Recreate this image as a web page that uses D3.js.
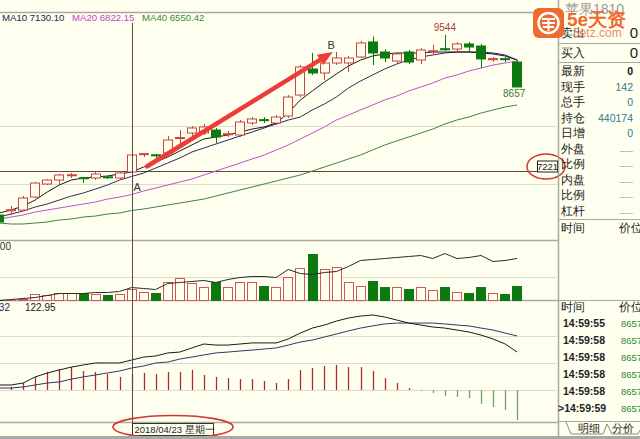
<!DOCTYPE html>
<html><head><meta charset="utf-8">
<script src="https://cdn.jsdelivr.net/npm/d3@7"></script>
<style>
html,body{margin:0;padding:0;background:#fffff0;overflow:hidden}
svg{display:block}
text{font-family:"Liberation Sans","DejaVu Sans",sans-serif}
</style></head><body>
<svg id="c" width="640" height="439"></svg>
<script>
// ---------- DATA ----------
const opens  = [6473,6545,6558,6780,7002,7070,7150,7110,7105,7125,7105,7207,7510,7500,7531,7780,7872,7872,7923,7850,7838,8043,8100,8043,8162,8520,8964,8896,9066,9066,9169,9425,9254,9100,9254,9117,9268,9310,9305,9391,9356,9125,9140,9083];
const highs  = [6507,6627,6797,7036,7087,7173,7190,7122,7207,7139,7224,7531,7531,7514,7821,7923,7992,8026,7958,7906,8094,8145,8145,8179,8520,9032,9237,9100,9254,9186,9442,9520,9305,9254,9288,9322,9374,9544,9425,9425,9391,9169,9169,9117];
const lows   = [6320,6473,6541,6763,6985,6985,7105,7019,7070,7087,7070,7190,7463,7446,7514,7633,7787,7838,7702,7804,7804,8009,8043,8009,8128,8486,8862,8776,9032,8913,9152,9032,9083,9049,9049,9049,9203,9271,9237,9254,8981,9083,9083,8657];
const closes = [6354,6565,6763,7019,7070,7156,7160,7100,7173,7115,7190,7497,7520,7490,7753,7795,7958,7975,7804,7860,8060,8111,8090,8145,8486,8998,8896,9066,9152,9152,9408,9237,9152,9220,9083,9288,9275,9300,9391,9339,9135,9140,9130,8657];
const ma5  = [6507,6558,6627,6729,6866,6985,7070,7105,7122,7139,7173,7207,7292,7377,7463,7565,7667,7770,7804,7838,7889,7940,7975,8043,8213,8435,8589,8742,8879,9015,9117,9186,9220,9237,9237,9237,9254,9254,9254,9254,9237,9220,9186,9117];
const ma10 = [6439,6490,6541,6610,6661,6729,6797,6849,6917,6985,7070,7130.10,7190,7275,7360,7446,7548,7616,7685,7753,7821,7889,7958,8026,8094,8145,8265,8367,8486,8640,8759,8862,8964,9049,9117,9169,9203,9237,9254,9254,9254,9237,9203,9117];
const ma20 = [6405,6439,6473,6524,6558,6593,6627,6661,6695,6746,6780,6822.15,6883,6934,6985,7036,7087,7156,7224,7292,7360,7429,7497,7582,7667,7770,7872,7975,8094,8179,8265,8350,8435,8503,8589,8657,8725,8810,8862,8930,8981,9032,9066,9100];
const ma40 = [6337,6320,6320,6337,6354,6388,6405,6439,6456,6490,6507,6550.42,6576,6610,6644,6678,6712,6746,6797,6849,6900,6951,7002,7053,7105,7156,7224,7292,7360,7429,7497,7582,7667,7736,7804,7872,7940,8026,8094,8145,8213,8265,8316,8350];
const volumes = [4000,6000,8000,29000,25000,33000,33000,33000,29000,25000,29000,50000,37500,33000,79000,96000,75000,58000,79000,58000,79000,79000,62500,58000,100000,137500,196000,133000,142000,79000,62500,83000,58000,58000,50000,58000,46000,58000,37500,33000,58000,33000,29000,62500];
const openInterest = [356000,358000,360000,362000,366000,370000,370000,370000,372000,372000,374000,382000,380000,378000,390000,392000,394000,396000,392000,398000,402000,404000,404000,402000,418000,410000,408000,412000,414000,424000,436000,438000,440000,442000,444000,446000,440000,450000,440000,442000,446000,434000,436000,440174];
const macdDiff = [28,28,39,73,95,112,128,140,151,151,151,167.32,184,190,207,212,235,257,251,251,257,263,263,263,285,318,346,363,385,402,413,419,408,391,374,363,352,346,335,324,307,285,257,212];
const macdDea  = [11,11,17,28,39,45,61,73,84,95,106,122.95,134,151,156,173,184,196,207,212,218,223,229,235,251,268,279,296,313,330,346,358,369,374,374,374,374,369,363,358,346,335,318,302];
const macdHist = [5,17,39,73,101,117,128,106,101,89,73,89,95,89,101,101,112,84,73,67,61,61,50,39,61,112,123,134,140,128,128,106,67,39,11,-4,-17,-34,-39,-45,-78,-95,-112,-168];
const priceGrid = [7000, 8000];
const volumeGrid = [100000];
const macdGrid = [0, 150, 300];
const cursorIndex = 11, cursorPrice = 7221;
const cursorDate = "2018/04/23 星期一";
const maLegend = [{name:"MA10", val:"7130.10", color:"#23234f"},{name:"MA20", val:"6822.15", color:"#c83ec8"},{name:"MA40", val:"6550.42", color:"#3b873b"}];
const quoteLabels = ["最新","现手","总手","持仓","日增","外盘","比例","内盘","比例","杠杆"];
const quoteValues = ["0","142","0","440174","0","-----","-----","-----","-----","-----"];
const tickTimes = ["14:59:55","14:59:58","14:59:58","14:59:58","14:59:58",">14:59:59"];
const tickPrices = ["8657","8657","8657","8657","8657","8657"];

// ---------- SCALES ----------
const N = opens.length;
const idx = d3.range(N);
const x = d3.scaleBand().domain(idx).range([-7, 523.2]).paddingInner(0.2).paddingOuter(0.1);
const bw = x.bandwidth();
const xc = i => x(i) + bw/2;
const xf = d3.scaleLinear().domain([0, N-1]).range([xc(0), xc(N-1)]);
const yP = d3.scaleLinear().domain([8657, 9544]).range([87, 35]);
const yV = d3.scaleLinear().domain([0, 250000]).range([301, 241]);
const yOI = d3.scaleLinear().domain([355000, 475000]).range([301, 241]);
const yM = d3.scaleLinear().domain([0, 300]).range([390, 336.3]);

const BG = "#fffff0", RED = "#c9443c", GREEN = "#0c7a10";
const svg = d3.select("#c");
svg.append("rect").attr("width",640).attr("height",439).attr("fill",BG);

const defs = svg.append("defs");
defs.append("clipPath").attr("id","cp").append("rect").attr("x",0).attr("y",13).attr("width",557).attr("height",227);
defs.append("clipPath").attr("id","cv").append("rect").attr("x",0).attr("y",241).attr("width",557).attr("height",60);
defs.append("clipPath").attr("id","cm").append("rect").attr("x",0).attr("y",301).attr("width",557).attr("height",122);

// grid lines
const grid = svg.append("g").attr("stroke","#dcdccc").attr("stroke-width",1).attr("shape-rendering","crispEdges");
grid.selectAll(".gp").data(priceGrid).join("line").attr("x1",0).attr("x2",557).attr("y1",d=>Math.round(yP(d))+0.5).attr("y2",d=>Math.round(yP(d))+0.5);
grid.selectAll(".gv").data(volumeGrid).join("line").attr("x1",0).attr("x2",557).attr("y1",d=>Math.round(yV(d))+0.5).attr("y2",d=>Math.round(yV(d))+0.5);
grid.selectAll(".gm").data(macdGrid).join("line").attr("x1",0).attr("x2",557).attr("y1",d=>Math.round(yM(d))+0.5).attr("y2",d=>Math.round(yM(d))+0.5);

// panel separators
const sep = svg.append("g").attr("stroke","#a9a9a0").attr("stroke-width",1.5);
[12.5, 240.5, 300.5, 422.5].forEach(v => sep.append("line").attr("x1",0).attr("x2",558).attr("y1",v).attr("y2",v));

// ---------- PRICE PANEL ----------
const gp = svg.append("g").attr("clip-path","url(#cp)");
gp.append("line").attr("x1",0).attr("x2",537).attr("y1",Math.round(yP(cursorPrice))+0.5).attr("y2",Math.round(yP(cursorPrice))+0.5).attr("stroke","#5a4a48").attr("stroke-width",1);

const maLine = arr => d3.line().x((d,i)=>xc(i)).y(d=>yP(d))(arr);
[[ma40,"#3b873b"],[ma20,"#c050c8"],[ma10,"#2b2b60"],[ma5,"#1a1a1a"]].forEach(([arr,col])=>{
  gp.append("path").attr("d",maLine(arr)).attr("fill","none").attr("stroke",col).attr("stroke-width",1);
});

const cg = gp.append("g");
idx.forEach(i=>{
  const up = closes[i] >= opens[i];
  const col = up ? RED : GREEN;
  const cx = Math.round(xc(i)) + 0.5;
  cg.append("line").attr("x1",cx).attr("x2",cx).attr("y1",yP(highs[i])).attr("y2",yP(lows[i])).attr("stroke",col).attr("stroke-width",1);
  const yt = yP(Math.max(opens[i],closes[i])), yb = yP(Math.min(opens[i],closes[i]));
  const h = Math.max(yb-yt, 1);
  cg.append("rect").attr("x",Math.round(x(i))+0.5).attr("y",yt).attr("width",Math.round(bw)-1).attr("height",h)
    .attr("fill", up ? BG : GREEN).attr("stroke",col).attr("stroke-width",1);
});

const arrowFrom = {i:12.3, p:7305}, arrowTo = {i:27.7, p:9254};
const ax1 = xf(arrowFrom.i), ay1 = yP(arrowFrom.p), ax2 = xf(arrowTo.i), ay2 = yP(arrowTo.p);
const ang = Math.atan2(ay2-ay1, ax2-ax1);
const hl = 15, hw = 6;
const bx = ax2 - hl*Math.cos(ang), by = ay2 - hl*Math.sin(ang);
gp.append("line").attr("x1",ax1).attr("y1",ay1).attr("x2",bx).attr("y2",by).attr("stroke","#ec3b38").attr("stroke-width",4.5).attr("stroke-linecap","round");
gp.append("path").attr("d",`M${ax2},${ay2} L${bx - hw*Math.sin(ang)},${by + hw*Math.cos(ang)} L${bx + hw*Math.sin(ang)},${by - hw*Math.cos(ang)} Z`).attr("fill","#ec3b38");

gp.append("text").attr("x",xc(cursorIndex)+2).attr("y",yP(6880)).attr("font-size",11).attr("fill","#333").text("A");
gp.append("text").attr("x",xf(27.25)).attr("y",yP(9305)).attr("font-size",11).attr("fill","#333").text("B");

const hiI = highs.indexOf(d3.max(highs));
gp.append("text").attr("x",xc(hiI)).attr("y",yP(highs[hiI])-4).attr("text-anchor","middle").attr("font-size",10).attr("fill","#b23a3a").text(d3.max(highs));
gp.append("text").attr("x",xc(N-1)-3).attr("y",yP(lows[N-1])+10).attr("text-anchor","middle").attr("font-size",10).attr("fill","#3a7a3a").text(lows[N-1]);

const legX = [2, 72, 142];
maLegend.forEach((m,k)=>{
  svg.append("text").attr("x",legX[k]).attr("y",21).attr("font-size",9.6).attr("fill",m.color).text(m.name+" "+m.val);
});

const cy = Math.round(yP(cursorPrice))+0.5;
svg.append("rect").attr("x",537.5).attr("y",cy-10.5).attr("width",20).attr("height",11).attr("fill","#fffff0").attr("stroke","#222").attr("stroke-width",1);
svg.append("text").attr("x",547.5).attr("y",cy-2).attr("text-anchor","middle").attr("font-size",9.5).attr("fill","#222").text(cursorPrice);
svg.append("ellipse").attr("cx",546).attr("cy",cy-5).attr("rx",19).attr("ry",12.5).attr("fill","none").attr("stroke","#d8322e").attr("stroke-width",1.5);

// ---------- VOLUME PANEL ----------
const gv = svg.append("g").attr("clip-path","url(#cv)");
idx.forEach(i=>{
  const up = closes[i] >= opens[i];
  const yt = yV(volumes[i]);
  gv.append("rect").attr("x",Math.round(x(i))+0.5).attr("y",Math.round(yt)+0.5).attr("width",Math.round(bw)-1).attr("height",Math.max(300.5-Math.round(yt)-0.5,0.5))
    .attr("fill", up ? BG : GREEN).attr("stroke", up ? "#d05858" : GREEN).attr("stroke-width",1);
});
gv.append("path").attr("d",d3.line().x((d,i)=>xc(i)).y(d=>yOI(d))(openInterest)).attr("fill","none").attr("stroke","#2a2a2a").attr("stroke-width",1);
svg.append("text").attr("x",11).attr("y",250).attr("text-anchor","end").attr("font-size",10).attr("fill","#333").text(d3.format("d")(yV.domain()[1]));

// ---------- MACD PANEL ----------
const gm = svg.append("g").attr("clip-path","url(#cm)");
idx.forEach(i=>{
  const v = macdHist[i];
  gm.append("line").attr("x1",Math.round(xc(i))+0.5).attr("x2",Math.round(xc(i))+0.5).attr("y1",yM(0)).attr("y2",yM(v))
    .attr("stroke", v>=0 ? "#a8302c" : "#6fa06f").attr("stroke-width",1.3);
});
gm.append("path").attr("d",d3.line().x((d,i)=>xc(i)).y(d=>yM(d))(macdDea)).attr("fill","none").attr("stroke","#34346e").attr("stroke-width",1);
gm.append("path").attr("d",d3.line().x((d,i)=>xc(i)).y(d=>yM(d))(macdDiff)).attr("fill","none").attr("stroke","#1a1a1a").attr("stroke-width",1);
svg.append("text").attr("x",10).attr("y",311).attr("text-anchor","end").attr("font-size",10).attr("fill","#2a2a5a").text(d3.format(".2f")(macdDiff[cursorIndex]));
svg.append("text").attr("x",25).attr("y",311).attr("font-size",10).attr("fill","#222").text(d3.format(".2f")(macdDea[cursorIndex]));

svg.append("line").attr("x1",Math.round(xc(cursorIndex))+0.5).attr("x2",Math.round(xc(cursorIndex))+0.5).attr("y1",23).attr("y2",423).attr("stroke","#5a4a48").attr("stroke-width",1);

const dx = Math.round(xc(cursorIndex))+0.5;
svg.append("rect").attr("x",dx).attr("y",423.5).attr("width",81).attr("height",12).attr("fill","#fffff0").attr("stroke","#333");
svg.append("text").attr("x",dx+2).attr("y",433).attr("font-size",9.5).attr("fill","#222").text(cursorDate);
svg.append("ellipse").attr("cx",173).attr("cy",427).attr("rx",60).attr("ry",11.5).attr("fill","none").attr("stroke","#d8322e").attr("stroke-width",1.6);

svg.append("rect").attr("x",0).attr("y",436).attr("width",640).attr("height",3).attr("fill","#a8a8a8");

// ---------- RIGHT PANEL ----------
const rp = svg.append("g");
rp.append("line").attr("x1",558.5).attr("x2",558.5).attr("y1",0).attr("y2",436).attr("stroke","#a9a9a0").attr("stroke-width",1.5);
[43.5, 62.5, 219.5, 300.5, 421.5].forEach(v=> rp.append("line").attr("x1",558).attr("x2",640).attr("y1",v).attr("y2",v).attr("stroke","#a9a9a0").attr("stroke-width",1));
const cjk = '"Noto Sans CJK SC",sans-serif';
rp.append("text").attr("x",565).attr("y",14).attr("font-size",14).attr("font-family",cjk).attr("fill","#9a9a9a").text("苹果1810");
rp.append("text").attr("x",561).attr("y",37).attr("font-size",12).attr("font-family",cjk).attr("fill","#222").text("卖出");
rp.append("text").attr("x",638).attr("y",38).attr("text-anchor","end").attr("font-size",15).attr("fill","#222").text("0");
rp.append("text").attr("x",561).attr("y",57).attr("font-size",12).attr("font-family",cjk).attr("fill","#222").text("买入");
rp.append("text").attr("x",638).attr("y",58).attr("text-anchor","end").attr("font-size",15).attr("fill","#222").text("0");
quoteLabels.forEach((l,k)=>{
  const yy = 75 + k*15.5;
  rp.append("text").attr("x",561).attr("y",yy).attr("font-size",12).attr("font-family",cjk).attr("fill","#222").text(l);
  const v = quoteValues[k];
  rp.append("text").attr("x",633).attr("y",yy).attr("text-anchor","end").attr("font-size",v==="-----"?8:10.5)
    .attr("font-weight", k===0?"bold":"normal").attr("fill", k===0?"#111": (v==="-----"?"#777":"#2f7a8a")).text(v);
});
rp.append("text").attr("x",561).attr("y",232).attr("font-size",12).attr("font-family",cjk).attr("fill","#222").text("时间");
rp.append("text").attr("x",619).attr("y",232).attr("font-size",12).attr("font-family",cjk).attr("fill","#222").text("价位");
rp.append("text").attr("x",561).attr("y",311).attr("font-size",12).attr("font-family",cjk).attr("fill","#222").text("时间");
rp.append("text").attr("x",619).attr("y",311).attr("font-size",12).attr("font-family",cjk).attr("fill","#222").text("价位");
tickTimes.forEach((t,k)=>{
  const yy = 327 + k*17;
  rp.append("text").attr("x",t.startsWith(">")?558:563).attr("y",yy).attr("font-size",10.5).attr("font-weight","bold").attr("fill","#222").text(t);
  rp.append("text").attr("x",621).attr("y",yy).attr("font-size",9.5).attr("fill","#2a8a2a").text(tickPrices[k]);
});
rp.append("path").attr("d","M566,422 L571,434 L603,434 L607,424 L612,434 L638,434 L640,430").attr("fill","none").attr("stroke","#888");
rp.append("text").attr("x",578).attr("y",432).attr("font-size",11).attr("font-family",cjk).attr("fill","#222").text("明细");
rp.append("text").attr("x",612).attr("y",432).attr("font-size",11).attr("font-family",cjk).attr("fill","#222").text("分价");

// logo
const lg = svg.append("g");
lg.append("rect").attr("x",533).attr("y",8).attr("width",31).attr("height",30).attr("rx",6).attr("fill","#ef6a2e");
lg.append("circle").attr("cx",548.5).attr("cy",23).attr("r",10).attr("fill","none").attr("stroke","#fff").attr("stroke-width",2.5);
lg.append("path").attr("d","M542,19 H555 M542,23 H555 M548.5,19 V31 M543,27 H554").attr("stroke","#fff").attr("stroke-width",2);
lg.append("text").attr("x",567).attr("y",26).attr("font-size",19).attr("font-weight","bold").attr("font-family",cjk).attr("fill","#ef6a2e").text("5e天资");
lg.append("text").attr("x",573).attr("y",37).attr("font-size",12).attr("fill","#e8805a").attr("opacity",0.9).text("5etz.com");
</script></body></html>
